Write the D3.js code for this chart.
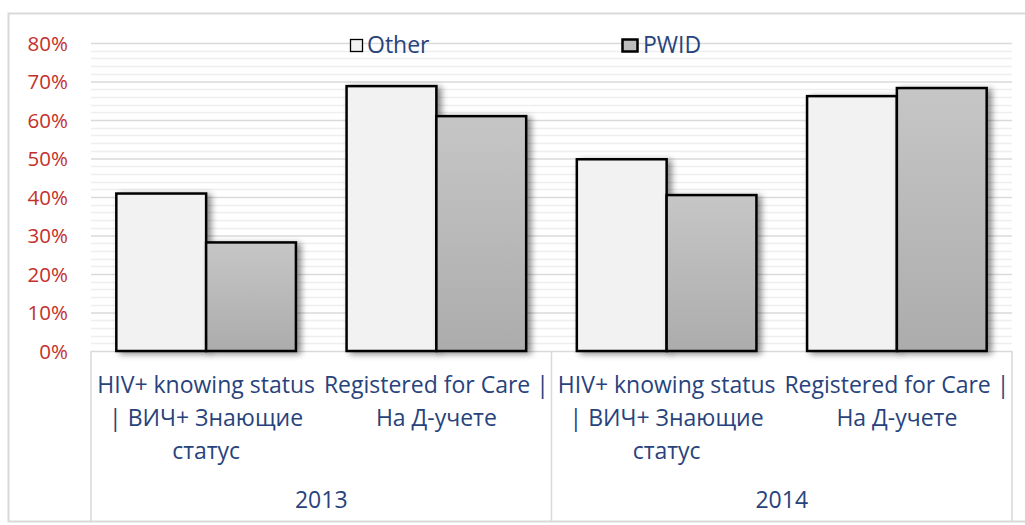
<!DOCTYPE html>
<html>
<head>
<meta charset="utf-8">
<script src="https://cdn.jsdelivr.net/npm/d3@7"></script>
<style>
  html, body { margin: 0; padding: 0; background: #fff; }
  svg { display: block; }
  text { font-family: "Open Sans", "DejaVu Sans", sans-serif; }
</style>
</head>
<body>
<svg id="chart" width="1025" height="525"></svg>
<script>
// Share of people (%) by year and indicator, split into Other and PWID
const years = ["2013", "2014"];
const measures = ["HIV+ knowing status | ВИЧ+ Знающие статус", "Registered for Care | На Д-учете"];
const measureLines = [
  ["HIV+ knowing status", "| ВИЧ+ Знающие", "статус"],
  ["Registered for Care |", "На Д-учете"]
];
const seriesNames = ["Other", "PWID"];
const otherValues = [40.9, 68.8, 49.8, 66.2];
const pwidValues  = [28.2, 61.0, 40.5, 68.3];
const yTicks = [0, 10, 20, 30, 40, 50, 60, 70, 80];

const svg = d3.select("#chart");
const plot = { left: 91, right: 1012, top: 43, bottom: 351 };
const labelSize = 23;

// outer chart frame
svg.append("rect")
  .attr("x", 8.5).attr("y", 13.5)
  .attr("width", 1030).attr("height", 508)
  .attr("fill", "#fff").attr("stroke", "#d9d9d9").attr("stroke-width", 2);

const defs = svg.append("defs");
const grad = defs.append("linearGradient")
  .attr("id", "pwidFill").attr("x1", 0).attr("y1", 0).attr("x2", 0).attr("y2", 1);
grad.append("stop").attr("offset", "0%").attr("stop-color", "#c6c6c6");
grad.append("stop").attr("offset", "100%").attr("stop-color", "#acacac");

const shadow = defs.append("filter").attr("id", "barShadow")
  .attr("x", "-20%").attr("y", "-20%").attr("width", "150%").attr("height", "150%");
shadow.append("feDropShadow")
  .attr("dx", 4).attr("dy", 2).attr("stdDeviation", 3)
  .attr("flood-color", "#000").attr("flood-opacity", 0.45);

// category rows: (year, measure) pairs
const rows = [];
years.forEach((yr, yi) => measures.forEach((m, mi) => {
  const idx = yi * measures.length + mi;
  rows.push({ key: yr + "|" + m, year: yr, measure: mi, other: otherValues[idx], pwid: pwidValues[idx] });
}));

const y = d3.scaleLinear().domain([0, 80]).range([plot.bottom, plot.top]);
const x0 = d3.scaleBand().domain(rows.map(r => r.key))
  .range([plot.left, plot.right]).paddingInner(0.22).paddingOuter(0.11);
const x1 = d3.scaleBand().domain(seriesNames).range([0, x0.bandwidth()]);
const xYear = d3.scaleBand().domain(years).range([plot.left, plot.right]);

// minor gridlines every 2%, major every 10%
const minor = d3.range(0, 81, 2).filter(v => v % 10 !== 0);
svg.append("g").selectAll("line").data(minor).join("line")
  .attr("x1", plot.left).attr("x2", plot.right)
  .attr("y1", d => Math.round(y(d)) + 0.5).attr("y2", d => Math.round(y(d)) + 0.5)
  .attr("stroke", "#eeeeee").attr("stroke-width", 1.3);

const yAxis = d3.axisLeft(y).tickValues(yTicks).tickFormat(d => d + "%")
  .tickSize(-(plot.right - plot.left)).tickPadding(23);
const gy = svg.append("g").attr("transform", `translate(${plot.left},0)`).call(yAxis);
gy.select(".domain").remove();
gy.selectAll(".tick line").attr("stroke", "#dadada").attr("stroke-width", 1.5);
gy.selectAll(".tick text")
  .attr("fill", "#c4302b").attr("font-size", 20.5).attr("dy", "0.35em");
gy.selectAll(".tick").filter(d => d === 0).select("line").remove();

// category axis frame: baseline and year separators
const axisG = svg.append("g");
axisG.append("line")
  .attr("x1", plot.left).attr("x2", plot.right)
  .attr("y1", plot.bottom + 0.5).attr("y2", plot.bottom + 0.5)
  .attr("stroke", "#d9d9d9").attr("stroke-width", 1.5);
const seps = [plot.left].concat(years.map(yr => xYear(yr) + xYear.bandwidth()));
axisG.selectAll("line.sep").data(seps).join("line").attr("class", "sep")
  .attr("x1", d => d).attr("x2", d => d)
  .attr("y1", plot.bottom).attr("y2", 522)
  .attr("stroke", "#d9d9d9").attr("stroke-width", 1.5);

// bars
const groups = svg.append("g").selectAll("g").data(rows).join("g")
  .attr("transform", d => `translate(${x0(d.key)},0)`);
groups.selectAll("rect").data(d => seriesNames.map(s => ({ s, v: s === "Other" ? d.other : d.pwid })))
  .join("rect")
  .attr("x", d => x1(d.s))
  .attr("y", d => y(d.v))
  .attr("width", x1.bandwidth())
  .attr("height", d => y(0) - y(d.v))
  .attr("fill", d => d.s === "Other" ? "#f2f2f2" : "url(#pwidFill)")
  .attr("stroke", "#000").attr("stroke-width", 2.5)
  .attr("filter", "url(#barShadow)");

// category labels
const textColor = "#28437c";
const labelG = svg.append("g");
rows.forEach(r => {
  const cx = x0(r.key) + x0.bandwidth() / 2;
  const t = labelG.append("text")
    .attr("text-anchor", "middle").attr("fill", textColor).attr("font-size", labelSize);
  measureLines[r.measure].forEach((line, i) => {
    t.append("tspan").attr("x", cx).attr("y", 393 + i * 33).text(line);
  });
});
labelG.selectAll("text.year").data(years).join("text").attr("class", "year")
  .attr("x", d => xYear(d) + xYear.bandwidth() / 2).attr("y", 508)
  .attr("text-anchor", "middle").attr("fill", textColor).attr("font-size", labelSize)
  .text(d => d);

// legend
const legendX = [350, 622];
const leg = svg.append("g").selectAll("g").data(seriesNames).join("g")
  .attr("transform", (d, i) => `translate(${legendX[i]},0)`);
leg.append("rect")
  .attr("x", 0.5).attr("y", 39.5)
  .attr("width", d => d === "Other" ? 12 : 15).attr("height", 12)
  .attr("fill", d => d === "Other" ? "#f2f2f2" : "#bdbdbd")
  .attr("stroke", "#000").attr("stroke-width", d => d === "Other" ? 1.3 : 2.5);
leg.append("text")
  .attr("x", d => d === "Other" ? 17 : 21).attr("y", 53)
  .attr("fill", textColor).attr("font-size", labelSize)
  .text(d => d);
</script>
</body>
</html>
